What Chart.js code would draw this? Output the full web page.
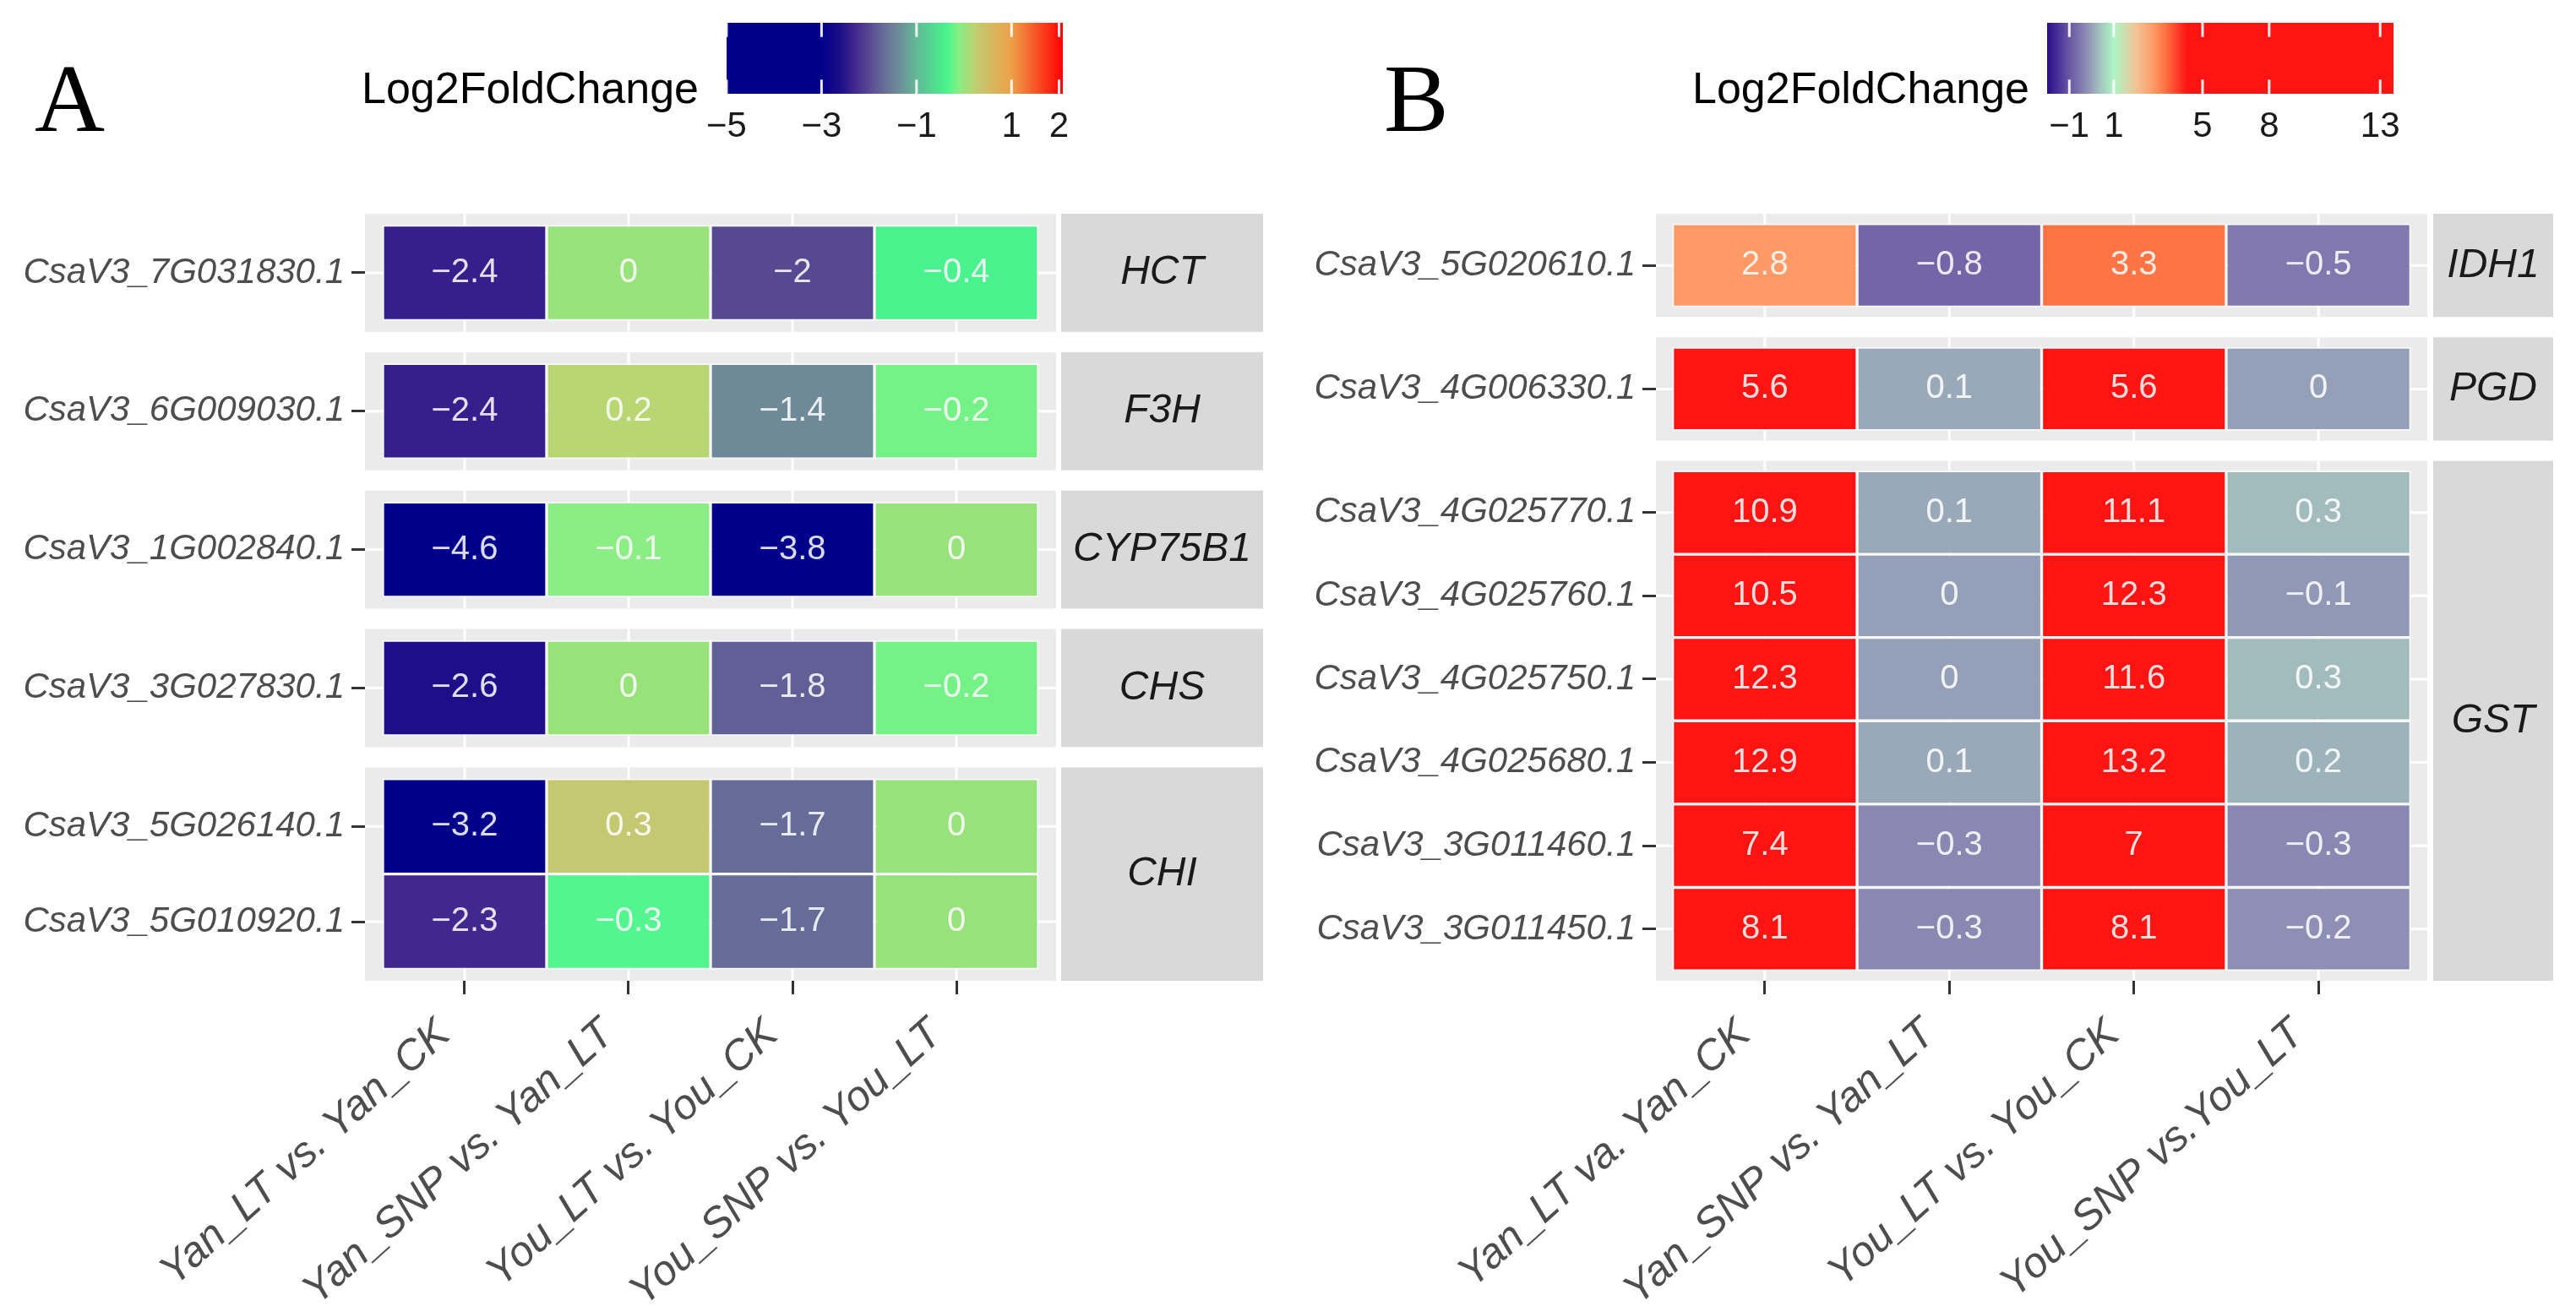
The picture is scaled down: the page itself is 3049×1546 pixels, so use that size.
<!DOCTYPE html>
<html>
<head>
<meta charset="utf-8">
<script src="https://cdn.jsdelivr.net/npm/chart.js@4.4.0/dist/chart.umd.min.js"></script>
<style>
  body { margin: 0; width: 3049px; height: 1546px; background: #fff; position: relative; overflow: hidden; }
  .box { position: absolute; top: 0; }
  .tag { position: absolute; top: 59px; font: 115px "Liberation Serif", serif; line-height: 1; color: #000; }
  .title { position: absolute; top: 78px; font: 52px "Liberation Sans", Arial, sans-serif; line-height: 1; color: #000; }
</style>
</head>
<body>
<div class="tag" style="left:41px">A</div>
<div class="title" style="left:428px">Log2FoldChange</div>
<div class="box" style="left:830px"><canvas id="legendA" width="450" height="200"></canvas></div>
<div class="box" style="left:0"><canvas id="panelA" width="1530" height="1546"></canvas></div>

<div class="tag" style="left:1638px">B</div>
<div class="title" style="left:2003px">Log2FoldChange</div>
<div class="box" style="left:2400px"><canvas id="legendB" width="450" height="200"></canvas></div>
<div class="box" style="left:1530px"><canvas id="panelB" width="1519" height="1546"></canvas></div>

<script>
// ---- panel A data ----
const columnsA = ['Yan_LT vs. Yan_CK', 'Yan_SNP vs. Yan_LT', 'You_LT vs. You_CK', 'You_SNP vs. You_LT'];
const genesA = ['CsaV3_7G031830.1', 'CsaV3_6G009030.1', 'CsaV3_1G002840.1', 'CsaV3_3G027830.1', 'CsaV3_5G026140.1', 'CsaV3_5G010920.1'];
const groupsA = ['HCT', 'F3H', 'CYP75B1', 'CHS', 'CHI', 'CHI'];
const yanLtVsCkA = [-2.4, -2.4, -4.6, -2.6, -3.2, -2.3];
const yanSnpVsLtA = [0, 0.2, -0.1, 0, 0.3, -0.3];
const youLtVsCkA = [-2, -1.4, -3.8, -1.8, -1.7, -1.7];
const youSnpVsLtA = [-0.4, -0.2, 0, -0.2, 0, 0];
const legendTicksA = [-5, -3, -1, 1, 2];
const legendLimitsA = [-5, 2.08];

// ---- panel B data ----
const columnsB = ['Yan_LT va. Yan_CK', 'Yan_SNP vs. Yan_LT', 'You_LT vs. You_CK', 'You_SNP vs.You_LT'];
const genesB = ['CsaV3_5G020610.1', 'CsaV3_4G006330.1', 'CsaV3_4G025770.1', 'CsaV3_4G025760.1', 'CsaV3_4G025750.1', 'CsaV3_4G025680.1', 'CsaV3_3G011460.1', 'CsaV3_3G011450.1'];
const groupsB = ['IDH1', 'PGD', 'GST', 'GST', 'GST', 'GST', 'GST', 'GST'];
const yanLtVsCkB = [2.8, 5.6, 10.9, 10.5, 12.3, 12.9, 7.4, 8.1];
const yanSnpVsLtB = [-0.8, 0.1, 0.1, 0, 0, 0.1, -0.3, -0.3];
const youLtVsCkB = [3.3, 5.6, 11.1, 12.3, 11.6, 13.2, 7, 8.1];
const youSnpVsLtB = [-0.5, 0, 0.3, -0.1, 0.3, 0.2, -0.3, -0.2];
const legendTicksB = [-1, 1, 5, 8, 13];
const legendLimitsB = [-2.0, 13.6];

// colour ramps (value stops + colours)
const rampA = [
  [-5, '#00008B'], [-3, '#00008B'], [-2.6, '#1E0E88'], [-2.3, '#42288E'], [-2.0, '#574892'],
  [-1.7, '#666C98'], [-1.4, '#6E8A98'], [-1.0, '#62B896'], [-0.4, '#48F28C'], [-0.3, '#52F58E'],
  [-0.2, '#74F286'], [-0.1, '#8AEE84'], [0, '#98E27C'], [0.2, '#B8D672'], [0.3, '#C4C870'],
  [1.0, '#F0A048'], [2.08, '#FF0000']
];
const rampB = [
  [-2.0, '#2A0C8C'], [-1.0, '#6A58A4'], [-0.8, '#7464A8'], [-0.5, '#8078AE'], [-0.3, '#8A88B2'],
  [0, '#94A0B8'], [0.3, '#A2BCBE'], [1.0, '#ACF6C6'], [2.0, '#F2C497'], [2.8, '#FF9966'],
  [3.3, '#FF7444'], [4.3, '#FF1414'], [13.6, '#FF1414']
];

Chart.defaults.font.family = '"Liberation Sans", Arial, sans-serif';

const PLOT_TOP = 253;
const PLOT_BOTTOM = 1161;
const FACET_PAD = 0.12;
const FACET_GAP_PX = 24;

function makeRamp(stops) {
  const rgb = stops.map(([v, h]) => [v, parseInt(h.slice(1, 3), 16), parseInt(h.slice(3, 5), 16), parseInt(h.slice(5, 7), 16)]);
  const str = (c) => `rgb(${Math.round(c[0])},${Math.round(c[1])},${Math.round(c[2])})`;
  return function (v) {
    if (v <= rgb[0][0]) return str(rgb[0].slice(1));
    for (let i = 1; i < rgb.length; i++) {
      if (v <= rgb[i][0]) {
        const a = rgb[i - 1], b = rgb[i];
        const t = (v - a[0]) / (b[0] - a[0]);
        return str([1, 2, 3].map(k => a[k] + (b[k] - a[k]) * t));
      }
    }
    return str(rgb[rgb.length - 1].slice(1));
  };
}

const fmt = (v) => String(v).replace('-', '\u2212');

// rows stacked top-down, facets separated by a fixed pixel gap
function facetLayout(groups) {
  const nf = groups.filter((g, i) => i === 0 || g !== groups[i - 1]).length;
  const rowPx = (PLOT_BOTTOM - PLOT_TOP - (nf - 1) * FACET_GAP_PX) / (groups.length + nf * 2 * FACET_PAD);
  const gap = FACET_GAP_PX / rowPx;
  const pos = [], facets = [];
  let y = 0;
  groups.forEach((g, i) => {
    if (i === 0 || g !== groups[i - 1]) {
      if (i > 0) y += FACET_PAD + gap;
      facets.push({ label: g, start: y, rows: [] });
      y += FACET_PAD;
    }
    pos.push(y + 0.5);
    facets[facets.length - 1].rows.push(y + 0.5);
    y += 1;
    facets[facets.length - 1].end = y + FACET_PAD;
  });
  return { pos, facets, total: y + FACET_PAD };
}

const facetPlugin = {
  id: 'facets',
  beforeDatasetsDraw(chart, args, opts) {
    const { ctx, chartArea: area, scales: { x, y } } = chart;
    ctx.save();
    opts.facets.forEach(f => {
      const top = y.getPixelForValue(f.start);
      const bottom = y.getPixelForValue(f.end);
      ctx.fillStyle = '#EBEBEB';
      ctx.fillRect(area.left, top, area.right - area.left, bottom - top);
      ctx.strokeStyle = '#FFFFFF';
      ctx.lineWidth = 3;
      ctx.beginPath();
      opts.columns.forEach((c, i) => {
        const px = x.getPixelForValue(i + 1);
        ctx.moveTo(px, top); ctx.lineTo(px, bottom);
      });
      f.rows.forEach(r => {
        const py = y.getPixelForValue(r);
        ctx.moveTo(area.left, py); ctx.lineTo(area.right, py);
      });
      ctx.stroke();
      // strip on the right
      const sx = area.right + opts.stripGap;
      ctx.fillStyle = '#D9D9D9';
      ctx.fillRect(sx, top, opts.stripWidth, bottom - top);
      ctx.fillStyle = '#1A1A1A';
      ctx.font = 'italic 48px "Liberation Sans"';
      ctx.textAlign = 'center';
      ctx.textBaseline = 'middle';
      ctx.fillText(f.label, sx + opts.stripWidth / 2, (top + bottom) / 2);
    });
    ctx.restore();
  }
};

const cellTextPlugin = {
  id: 'cellText',
  afterDatasetsDraw(chart) {
    const { ctx } = chart;
    ctx.save();
    ctx.font = '40px "Liberation Sans"';
    ctx.fillStyle = 'rgba(255,255,255,0.86)';
    ctx.textAlign = 'center';
    ctx.textBaseline = 'middle';
    chart.data.datasets.forEach((ds, di) => {
      chart.getDatasetMeta(di).data.forEach((bar, i) => {
        const { x, y, base } = bar.getProps(['x', 'y', 'base'], true);
        ctx.fillText(fmt(ds.data[i].v), (x + base) / 2, y);
      });
    });
    ctx.restore();
  }
};

function drawPanel(id, o) {
  const lay = facetLayout(o.groups);
  const colour = makeRamp(o.ramp);
  const datasets = o.series.map((vals, c) => ({
    label: o.columns[c],
    data: vals.map((v, i) => ({ x: [c + 0.5, c + 1.5], y: lay.pos[i], v })),
    backgroundColor: vals.map(colour),
    borderColor: 'rgba(255,255,255,0.6)',
    borderWidth: 2,
    borderSkipped: false,
    grouped: false,
    categoryPercentage: 1,
    barPercentage: 1
  }));
  const tickGrid = { display: true, offset: false, drawOnChartArea: false, drawTicks: true, tickLength: 16, tickWidth: 3, tickColor: '#333333' };
  new Chart(document.getElementById(id), {
    type: 'bar',
    data: { datasets },
    options: {
      indexAxis: 'y',
      responsive: false,
      animation: false,
      devicePixelRatio: 1,
      layout: { padding: { top: PLOT_TOP, right: o.rightPad, left: 0, bottom: 0 } },
      plugins: {
        legend: { display: false },
        tooltip: { enabled: false },
        facets: { facets: lay.facets, columns: o.columns, stripGap: o.stripGap, stripWidth: o.stripWidth }
      },
      scales: {
        x: {
          type: 'linear',
          offset: false,
          min: 0.5 - o.xPad,
          max: o.columns.length + 0.5 + o.xPad,
          afterBuildTicks: (s) => { s.ticks = o.columns.map((c, i) => ({ value: i + 1 })); },
          afterFit: (s) => { s.height = 1546 - PLOT_BOTTOM; },
          ticks: {
            autoSkip: false, minRotation: 42, maxRotation: 42, padding: 18, labelOffset: -24,
            color: '#4D4D4D', font: { size: 50, style: 'italic' },
            callback: (v) => o.columns[Math.round(v) - 1]
          },
          grid: tickGrid,
          border: { display: false }
        },
        y: {
          type: 'linear',
          offset: false,
          reverse: true,
          min: 0,
          max: lay.total,
          afterBuildTicks: (s) => { s.ticks = lay.pos.map(v => ({ value: v })); },
          afterFit: (s) => { s.width = o.axisWidth; },
          ticks: {
            autoSkip: false, padding: 8,
            color: '#4D4D4D', font: { size: 42, style: 'italic' },
            callback: (v) => o.genes[lay.pos.findIndex(p => Math.abs(p - v) < 1e-6)]
          },
          grid: tickGrid,
          border: { display: false }
        }
      }
    },
    plugins: [facetPlugin, cellTextPlugin]
  });
}

const barTicksPlugin = {
  id: 'barTicks',
  afterDatasetsDraw(chart, args, opts) {
    const { ctx, chartArea: a, scales: { x } } = chart;
    const h = a.bottom - a.top;
    ctx.save();
    ctx.strokeStyle = 'rgba(255,255,255,0.9)';
    ctx.lineWidth = 3;
    ctx.beginPath();
    opts.ticks.forEach(v => {
      const px = x.getPixelForValue(v);
      ctx.moveTo(px, a.top); ctx.lineTo(px, a.top + h * 0.2);
      ctx.moveTo(px, a.bottom - h * 0.2); ctx.lineTo(px, a.bottom);
    });
    ctx.stroke();
    ctx.restore();
  }
};

function drawLegend(id, o) {
  const colour = makeRamp(o.ramp);
  new Chart(document.getElementById(id), {
    type: 'bar',
    data: {
      labels: [''],
      datasets: [{
        data: [o.limits],
        backgroundColor: (c) => {
          const area = c.chart.chartArea;
          if (!area) return null;
          const g = c.chart.ctx.createLinearGradient(area.left, 0, area.right, 0);
          const n = 120;
          for (let k = 0; k <= n; k++) {
            g.addColorStop(k / n, colour(o.limits[0] + (o.limits[1] - o.limits[0]) * k / n));
          }
          return g;
        },
        borderWidth: 0,
        categoryPercentage: 1,
        barPercentage: 1
      }]
    },
    options: {
      indexAxis: 'y',
      responsive: false,
      animation: false,
      devicePixelRatio: 1,
      layout: { padding: { left: o.left, right: 450 - o.left - o.width, top: 27, bottom: 0 } },
      plugins: { legend: { display: false }, tooltip: { enabled: false }, barTicks: { ticks: o.ticks } },
      scales: {
        x: {
          type: 'linear',
          min: o.limits[0],
          max: o.limits[1],
          afterBuildTicks: (s) => { s.ticks = o.ticks.map(v => ({ value: v })); },
          afterFit: (s) => { s.height = 89; },
          ticks: { autoSkip: false, maxRotation: 0, padding: 6, color: '#1A1A1A', font: { size: 42 }, callback: fmt },
          grid: { display: false },
          border: { display: false }
        },
        y: { display: false }
      }
    },
    plugins: [barTicksPlugin]
  });
}

drawLegend('legendA', { ramp: rampA, limits: legendLimitsA, ticks: legendTicksA, left: 20, width: 408 });
drawLegend('legendB', { ramp: rampB, limits: legendLimitsB, ticks: legendTicksB, left: 23, width: 410 });

drawPanel('panelA', {
  columns: columnsA, genes: genesA, groups: groupsA,
  series: [yanLtVsCkA, yanSnpVsLtA, youLtVsCkA, youSnpVsLtA],
  ramp: rampA, xPad: 0.108, axisWidth: 432, rightPad: 280, stripGap: 6, stripWidth: 239
});
drawPanel('panelB', {
  columns: columnsB, genes: genesB, groups: groupsB,
  series: [yanLtVsCkB, yanSnpVsLtB, youLtVsCkB, youSnpVsLtB],
  ramp: rampB, xPad: 0.09, axisWidth: 430, rightPad: 176, stripGap: 7, stripWidth: 142
});
</script>
</body>
</html>
